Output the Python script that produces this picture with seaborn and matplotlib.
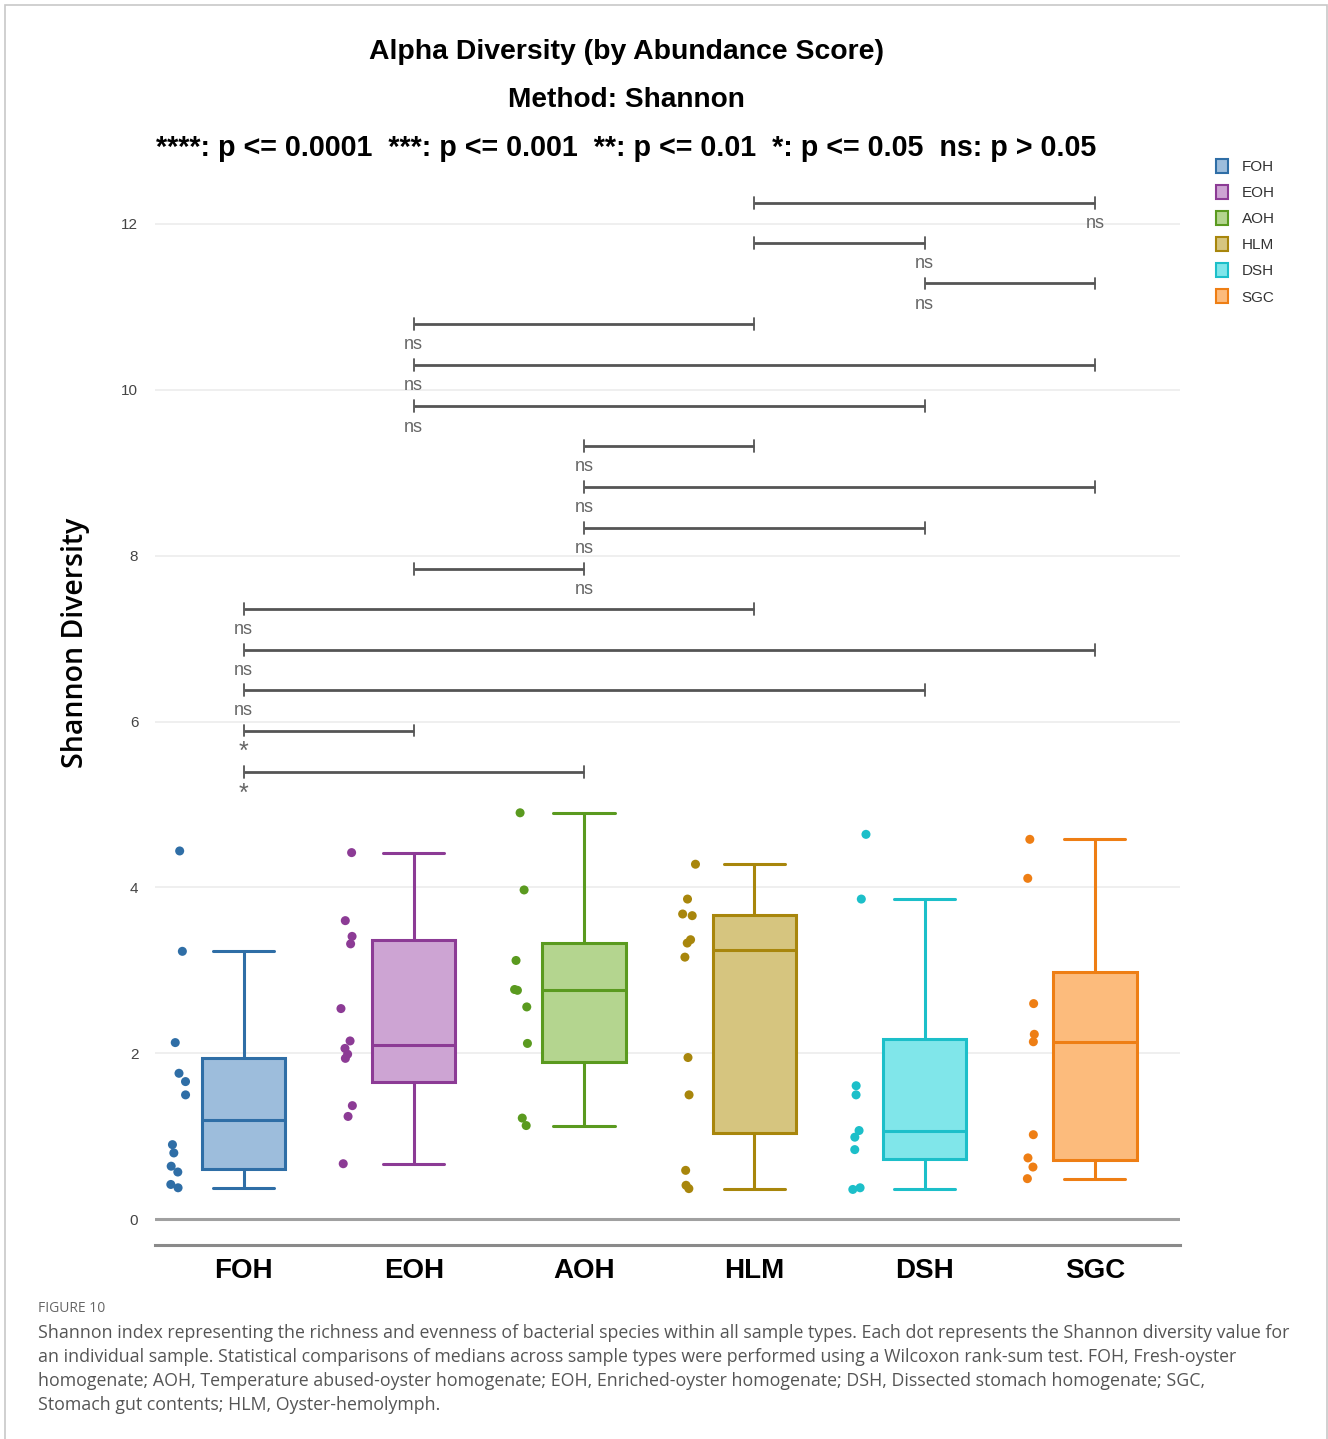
import numpy as np
import pandas as pd
import matplotlib
matplotlib.use("Agg")
import matplotlib.pyplot as plt
from matplotlib.patches import Patch, Rectangle
import seaborn as sns

sns.set_theme(style="white")
plt.rcParams['font.family'] = ['Liberation Sans', 'DejaVu Sans']
plt.rcParams['text.color'] = 'black'

# --- data ---
groups = ["FOH", "EOH", "AOH", "HLM", "DSH", "SGC"]
foh = [4.44, 3.23, 2.13, 1.76, 1.66, 1.50, 0.90, 0.80, 0.64, 0.57, 0.42, 0.38]
eoh = [4.42, 3.60, 3.41, 3.32, 2.54, 2.15, 2.06, 1.99, 1.94, 1.37, 1.24, 0.67]
aoh = [4.90, 3.97, 3.12, 2.77, 2.76, 2.56, 2.12, 1.22, 1.13]
hlm = [4.28, 3.86, 3.68, 3.66, 3.37, 3.33, 3.16, 1.95, 1.50, 0.59, 0.41, 0.37]
dsh = [4.64, 3.86, 1.61, 1.50, 1.07, 0.99, 0.84, 0.38, 0.36]
sgc = [4.58, 4.11, 2.60, 2.23, 2.14, 1.02, 0.74, 0.63, 0.49]

pairs = [("HLM", "SGC"), ("HLM", "DSH"), ("DSH", "SGC"), ("EOH", "HLM"),
         ("EOH", "SGC"), ("EOH", "DSH"), ("AOH", "HLM"), ("AOH", "SGC"),
         ("AOH", "DSH"), ("EOH", "AOH"), ("FOH", "HLM"), ("FOH", "SGC"),
         ("FOH", "DSH"), ("FOH", "EOH"), ("FOH", "AOH")]
bracket_y = [12.25, 11.77, 11.28, 10.79, 10.30, 9.80, 9.32, 8.83, 8.33,
             7.84, 7.36, 6.86, 6.38, 5.89, 5.39]
sig_labels = ["ns"] * 13 + ["*", "*"]
label_at = ["SGC", "DSH", "DSH", "EOH", "EOH", "EOH", "AOH", "AOH", "AOH",
            "AOH", "FOH", "FOH", "FOH", "FOH", "FOH"]

edge = {"FOH": "#2f6ea6", "EOH": "#8c3b95", "AOH": "#5a9a1f",
        "HLM": "#a8860c", "DSH": "#1cbfc9", "SGC": "#ee7e14"}
fill = {"FOH": "#9dbddc", "EOH": "#cda4d3", "AOH": "#b4d58f",
        "HLM": "#d6c57f", "DSH": "#80e6ea", "SGC": "#fcbb7c"}

values = [foh, eoh, aoh, hlm, dsh, sgc]
df = pd.concat([pd.DataFrame({"group": g, "value": v}) for g, v in zip(groups, values)],
               ignore_index=True)
idx = {g: i for i, g in enumerate(groups)}
df["pos"] = df["group"].map(idx) - 0.38


def box_stats(v):
    # plotly-style quartiles (hazen) and 1.5*IQR whiskers
    v = np.sort(np.asarray(v))
    q1, med, q3 = np.percentile(v, [25, 50, 75], method="hazen")
    iqr = q3 - q1
    lo = v[v >= q1 - 1.5 * iqr].min()
    hi = v[v <= q3 + 1.5 * iqr].max()
    return dict(q1=q1, med=med, q3=q3, whislo=lo, whishi=hi, fliers=[])


fig = plt.figure(figsize=(13.28, 14.39), dpi=100)
ax = fig.add_axes([0.1167, 0.1348, 0.7718, 0.7443])

# boxes
stats = [box_stats(v) for v in values]
bp = ax.bxp(stats, positions=range(len(groups)), widths=0.49, patch_artist=True,
            showfliers=False, manage_ticks=False)
for i, g in enumerate(groups):
    bp["boxes"][i].set(facecolor=fill[g], edgecolor=edge[g], linewidth=2.2, zorder=3)
    bp["medians"][i].set(color=edge[g], linewidth=2.2, zorder=4)
    for j in (2 * i, 2 * i + 1):
        bp["whiskers"][j].set(color=edge[g], linewidth=2.2)
        bp["caps"][j].set(color=edge[g], linewidth=2.2, xdata=np.array([i - 0.18, i + 0.18]))

# jittered points
np.random.seed(3)
sns.stripplot(data=df, x="pos", y="value", hue="group", palette=edge,
              native_scale=True, orient="x", jitter=0.05, size=6.5,
              linewidth=0, legend=False, ax=ax, zorder=5)

# significance brackets
for (a, b), y, lab, at in zip(pairs, bracket_y, sig_labels, label_at):
    xa, xb = idx[a], idx[b]
    ax.plot([xa, xb], [y, y], color="#555555", lw=2.0, solid_capstyle="butt", zorder=2)
    for xe in (xa, xb):
        ax.plot([xe, xe], [y - 0.07, y + 0.07], color="#555555", lw=1.3, zorder=2)
    if lab == "ns":
        ax.text(idx[at], y - 0.25, lab, ha="center", va="center", fontsize=13,
                color="#666666")
    else:
        ax.text(idx[at], y - 0.26, lab, ha="center", va="center", fontsize=18,
                color="#666666")

# axes cosmetics
ax.set_xlim(-0.52, 5.5)
ax.set_ylim(-0.31, 12.6)
ax.set_yticks(range(0, 13, 2))
ax.set_yticklabels([str(t) for t in range(0, 13, 2)], fontsize=11, color="#444444")
for t in range(2, 13, 2):
    ax.axhline(t, color="#ececec", lw=1.2, zorder=0)
ax.axhline(0, color="#a0a0a0", lw=2.2, zorder=1)
ax.set_xticks(range(len(groups)))
ax.set_xticklabels(groups, fontsize=20, fontweight="bold", color="black")
ax.tick_params(axis="x", length=0, pad=9)
ax.tick_params(axis="y", length=0, pad=12)
ax.set_xlabel("")
ax.set_ylabel("")
for s in ("top", "right", "left"):
    ax.spines[s].set_visible(False)
ax.spines["bottom"].set_color("#8a8a8a")
ax.spines["bottom"].set_linewidth(2.2)
ax.grid(False)

fig.text(0.0565, 0.553, "Shannon Diversity", rotation=90, ha="center", va="center",
         fontsize=20.5, fontweight="semibold", family=["Open Sans", "DejaVu Sans"])

# titles
fig.text(0.4714, 0.9639, "Alpha Diversity (by Abundance Score)", ha="center", va="center",
         fontsize=20.4, fontweight="bold")
fig.text(0.4714, 0.9305, "Method: Shannon", ha="center", va="center",
         fontsize=20.2, fontweight="bold")
fig.text(0.4714, 0.8972,
         "****: p <= 0.0001  ***: p <= 0.001  **: p <= 0.01  *: p <= 0.05  ns: p > 0.05",
         ha="center", va="center", fontsize=20.6, fontweight="bold")

# legend
handles = [Patch(facecolor=fill[g], edgecolor=edge[g], linewidth=1.5, label=g) for g in groups]
leg = fig.legend(handles=handles, loc="upper left", bbox_to_anchor=(0.905, 0.899),
                 frameon=False, handlelength=0.8, handleheight=1.0,
                 handletextpad=0.9, labelspacing=0.72, prop={"size": 11})
for t in leg.get_texts():
    t.set_color("#333333")

# caption
fig.text(0.0286, 1 - 1309 / 1439, "FIGURE 10", ha="left", va="center", fontsize=10,
         color="#666666", family=["Open Sans", "DejaVu Sans"])
caption = [
    "Shannon index representing the richness and evenness of bacterial species within all sample types. Each dot represents the Shannon diversity value for",
    "an individual sample. Statistical comparisons of medians across sample types were performed using a Wilcoxon rank-sum test. FOH, Fresh-oyster",
    "homogenate; AOH, Temperature abused-oyster homogenate; EOH, Enriched-oyster homogenate; DSH, Dissected stomach homogenate; SGC,",
    "Stomach gut contents; HLM, Oyster-hemolymph.",
]
for k, line in enumerate(caption):
    fig.text(0.0286, 1 - (1333 + 24 * k) / 1439, line, ha="left", va="center",
             fontsize=12.78, color="#555555", family=["Open Sans", "DejaVu Sans"])

# thin frame around the figure
fig.add_artist(Rectangle((0.0035, -0.01), 0.9955, 1.0065, transform=fig.transFigure,
                         fill=False, edgecolor="#c8c8c8", lw=1.2))

fig.savefig("out.png", dpi=100)
